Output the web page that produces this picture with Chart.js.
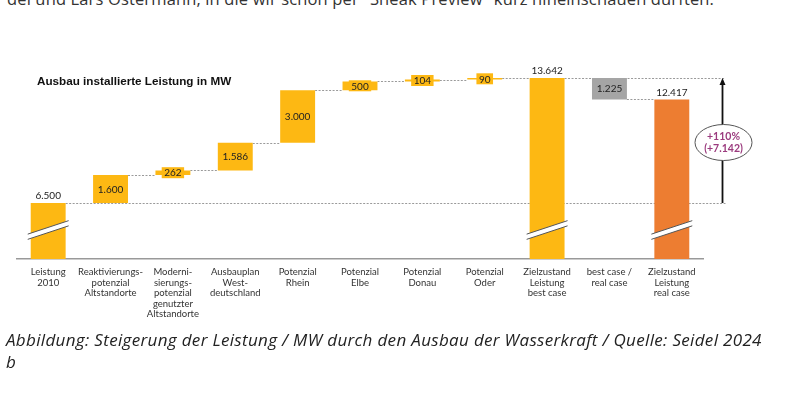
<!DOCTYPE html>
<html lang="de">
<head>
<meta charset="utf-8">
<title>Ausbau installierte Leistung</title>
<script src="https://cdn.jsdelivr.net/npm/chart.js@4.4.1/dist/chart.umd.min.js"></script>
<style>
  html, body { margin: 0; padding: 0; background: #fff; overflow: hidden; }
  body { width: 806px; height: 393px; position: relative; font-family: "Open Sans", sans-serif; }
  .intro { position: absolute; left: 7px; top: -11px; font-size: 16.5px; letter-spacing: 0.14px; line-height: 20px; color: #333; white-space: nowrap; }
  .chart-title { position: absolute; left: 37px; top: 74px; font: bold 11.7px "Liberation Sans", Arial, sans-serif; color: #111; white-space: nowrap; }
  .chart-box { position: absolute; left: 0; top: 40px; width: 806px; height: 290px; }
  .caption { position: absolute; left: 6px; top: 329px; font-size: 17px; letter-spacing: 0.33px; line-height: 21.5px; font-style: italic; color: #222; white-space: nowrap; }
</style>
</head>
<body>
<div class="intro">del und Lars Ostermann, in die wir schon per "Sneak Preview" kurz hineinschauen durften.</div>
<div class="chart-box"><canvas id="waterfall"></canvas></div>
<div class="chart-title">Ausbau installierte Leistung in MW</div>
<div class="caption">Abbildung: Steigerung der Leistung / MW durch den Ausbau der Wasserkraft / Quelle: Seidel 2024<br>b</div>

<script>
// categories (multi-line labels as drawn under the axis)
const categories = [
  ["Leistung", "2010"],
  ["Reaktivierungs-", "potenzial", "Altstandorte"],
  ["Moderni-", "sierungs-", "potenzial", "genutzter", "Altstandorte"],
  ["Ausbauplan", "West-", "deutschland"],
  ["Potenzial", "Rhein"],
  ["Potenzial", "Elbe"],
  ["Potenzial", "Donau"],
  ["Potenzial", "Oder"],
  ["Zielzustand", "Leistung", "best case"],
  ["best case /", "real case"],
  ["Zielzustand", "Leistung", "real case"]
];

// MW values per step
const steps = [6500, 1600, 262, 1586, 3000, 500, 104, 90, 13642, 1225, 12417];

// total = bar from the (broken) axis, up = increase, down = decrease
const stepKinds = ["total", "up", "up", "up", "up", "up", "up", "up", "total", "down", "total"];

// axis starts above zero, bars are shown broken
const axisMin = 3300;
const axisMax = 14700;

const YELLOW = "#FDB813";
const ORANGE = "#ED7D31";
const GREY = "#A5A5A5";

// format like 7.142
function fmt(v) {
  return String(v).replace(/\B(?=(\d{3})+(?!\d))/g, ".");
}

// build floating ranges
let running = 0;
const ranges = steps.map((v, i) => {
  const kind = stepKinds[i];
  if (kind === "total") { running = v; return [axisMin, v]; }
  if (kind === "up") { const r = [running, running + v]; running += v; return r; }
  const r = [running - v, running]; running -= v; return r;
});
const levels = ranges.map((r, i) => stepKinds[i] === "down" ? r[0] : r[1]);

const barColors = stepKinds.map((k, i) => {
  if (k === "down") return GREY;
  if (i === steps.length - 1) return ORANGE;
  return YELLOW;
});

function arrowX(chart) {
  return chart.chartArea.right + 19.5;
}

// dotted connectors behind the bars
const connectorPlugin = {
  id: "connectors",
  beforeDatasetsDraw(chart) {
    const ctx = chart.ctx;
    const bars = chart.getDatasetMeta(0).data;
    const yScale = chart.scales.y;
    ctx.save();
    ctx.strokeStyle = "#9a9a9a";
    ctx.lineWidth = 1;
    ctx.setLineDash([2, 1.5]);
    for (let i = 0; i < bars.length - 1; i++) {
      const y = Math.round(yScale.getPixelForValue(levels[i])) + 0.5;
      const x1 = bars[i].x + bars[i].width / 2;
      let x2 = bars[i + 1].x - bars[i + 1].width / 2;
      if (i === 0 || i === 8) x2 = arrowX(chart) + 3;
      ctx.beginPath();
      ctx.moveTo(x1, y);
      ctx.lineTo(x2, y);
      ctx.stroke();
    }
    ctx.restore();
  }
};

// value labels, axis breaks, arrow with ellipse
const labelPlugin = {
  id: "labels",
  afterDatasetsDraw(chart) {
    const ctx = chart.ctx;
    const bars = chart.getDatasetMeta(0).data;
    const yScale = chart.scales.y;
    const area = chart.chartArea;
    ctx.save();
    ctx.font = "10px Lato, sans-serif";
    ctx.textAlign = "center";
    ctx.textBaseline = "middle";

    bars.forEach((bar, i) => {
      const top = Math.min(bar.y, bar.base);
      const bottom = Math.max(bar.y, bar.base);
      const text = fmt(steps[i]);
      if (stepKinds[i] === "total") {
        ctx.fillStyle = "#222";
        ctx.fillText(text, bar.x, top - 7);

        // axis break marks
        const cy = area.bottom - 29;
        const half = bar.width / 2 + 3;
        const dy = half * 0.33;
        ctx.save();
        ctx.lineCap = "butt";
        ctx.strokeStyle = "#fff";
        ctx.lineWidth = 5;
        ctx.beginPath();
        ctx.moveTo(bar.x - half, cy + dy);
        ctx.lineTo(bar.x + half, cy - dy);
        ctx.stroke();
        ctx.strokeStyle = "#555";
        ctx.lineWidth = 1;
        [-2.6, 2.6].forEach(off => {
          ctx.beginPath();
          ctx.moveTo(bar.x - half, cy + dy + off);
          ctx.lineTo(bar.x + half, cy - dy + off);
          ctx.stroke();
        });
        ctx.restore();
      } else {
        const cy = (top + bottom) / 2;
        if (bottom - top < 10) {
          const w = ctx.measureText(text).width + 5;
          ctx.fillStyle = barColors[i];
          ctx.fillRect(bar.x - w / 2, cy - 5.5, w, 11);
        }
        ctx.fillStyle = "#222";
        ctx.fillText(text, bar.x, cy + 0.5);
      }
    });

    // arrow from 2010 level to best case level
    const ax = arrowX(chart);
    const yLow = yScale.getPixelForValue(steps[0]);
    const yHigh = yScale.getPixelForValue(steps[8]);
    ctx.strokeStyle = "#111";
    ctx.fillStyle = "#111";
    ctx.lineWidth = 1.8;
    ctx.beginPath();
    ctx.moveTo(ax, yLow);
    ctx.lineTo(ax, yHigh + 5);
    ctx.stroke();
    ctx.beginPath();
    ctx.moveTo(ax, yHigh);
    ctx.lineTo(ax - 3, yHigh + 7);
    ctx.lineTo(ax + 3, yHigh + 7);
    ctx.closePath();
    ctx.fill();

    // ellipse with increase
    const diff = steps[8] - steps[0];
    const pct = Math.round(diff / steps[0] * 100);
    const ey = (yLow + yHigh) / 2 + 2;
    ctx.beginPath();
    ctx.ellipse(ax + 1, ey, 28.5, 18, 0, 0, Math.PI * 2);
    ctx.fillStyle = "#fff";
    ctx.fill();
    ctx.strokeStyle = "#555";
    ctx.lineWidth = 1;
    ctx.stroke();
    ctx.fillStyle = "#9B3B7E";
    ctx.font = "bold 10.5px Lato, sans-serif";
    ctx.fillText("+" + pct + "%", ax + 1, ey - 6);
    ctx.fillText("(+" + fmt(diff) + ")", ax + 1, ey + 6);

    ctx.restore();
  }
};

new Chart(document.getElementById("waterfall"), {
  type: "bar",
  data: {
    labels: categories,
    datasets: [{
      data: ranges,
      backgroundColor: barColors,
      borderWidth: 0,
      barPercentage: 1,
      categoryPercentage: 0.56
    }]
  },
  options: {
    responsive: true,
    maintainAspectRatio: false,
    animation: false,
    layout: { padding: { left: 17, right: 103, top: 19.5, bottom: 0 } },
    plugins: {
      legend: { display: false },
      tooltip: { enabled: false },
      title: { display: false }
    },
    scales: {
      x: {
        grid: { display: false },
        border: { display: true, color: "#999", width: 1.5 },
        ticks: {
          autoSkip: false,
          maxRotation: 0,
          padding: 0,
          color: "#333",
          font: { family: "Lato, sans-serif", size: 9.5, lineHeight: 1.1 }
        },
        afterFit(axis) { axis.height = 71; }
      },
      y: {
        display: false,
        min: axisMin,
        max: axisMax
      }
    }
  },
  plugins: [connectorPlugin, labelPlugin]
});
</script>
</body>
</html>
